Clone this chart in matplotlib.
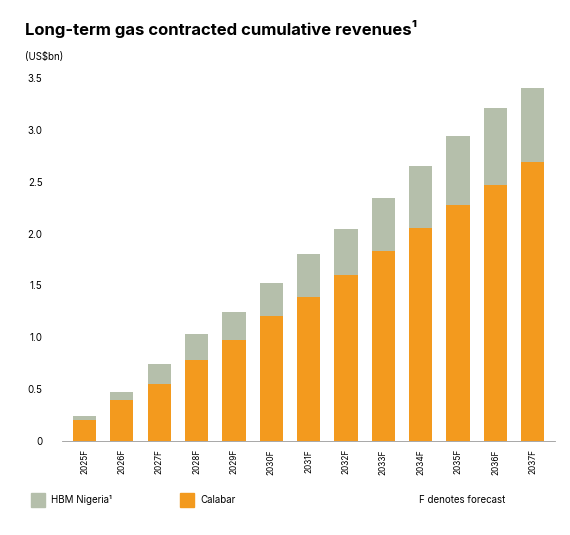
import matplotlib.pyplot as plt

years = ['2025F', '2026F', '2027F', '2028F', '2029F', '2030F', '2031F',
         '2032F', '2033F', '2034F', '2035F', '2036F', '2037F']
calabar = [0.20, 0.39, 0.55, 0.78, 0.97, 1.20, 1.39, 1.60, 1.83, 2.05, 2.28, 2.47, 2.69]
totals = [0.24, 0.47, 0.74, 1.03, 1.24, 1.52, 1.80, 2.04, 2.34, 2.65, 2.94, 3.21, 3.40]
hbm = [t - c for t, c in zip(totals, calabar)]

orange = '#F39A1E'
grey = '#B5BFAB'

plt.rcParams['font.family'] = ['Inter', 'DejaVu Sans']
fig = plt.figure(figsize=(5.7, 5.35), dpi=100)
ax = fig.add_axes([0.109, 0.176, 0.865, 0.678])

x = range(len(years))
ax.bar(x, calabar, width=0.62, color=orange)
ax.bar(x, hbm, bottom=calabar, width=0.62, color=grey)

ax.set_ylim(0, 3.5)
ax.set_xlim(-0.6, len(years) - 0.4)
ax.set_yticks([0, 0.5, 1.0, 1.5, 2.0, 2.5, 3.0, 3.5])
ax.set_yticklabels(['0', '0.5', '1.0', '1.5', '2.0', '2.5', '3.0', '3.5'], fontsize=7)
ax.set_xticks(list(x))
ax.set_xticklabels(years, rotation=90, fontsize=6)
ax.tick_params(axis='y', length=0, pad=14)
ax.tick_params(axis='x', length=0, pad=6)
for s in ['top', 'right', 'left']:
    ax.spines[s].set_visible(False)
ax.spines['bottom'].set_color('#999999')
ax.spines['bottom'].set_linewidth(0.6)

fig.text(0.044, 0.945, 'Long-term gas contracted cumulative revenues¹',
         fontsize=12, fontweight='bold', va='center')
fig.text(0.044, 0.893, '(US$bn)', fontsize=7, va='center')

leg_items = [(0.054, grey, 'HBM Nigeria¹'), (0.316, orange, 'Calabar')]
for lx, col, lab in leg_items:
    fig.patches.append(plt.Rectangle((lx, 0.052), 0.025, 0.027,
                                     transform=fig.transFigure, color=col))
    fig.text(lx + 0.035, 0.065, lab, fontsize=7, va='center')
fig.text(0.735, 0.065, 'F denotes forecast', fontsize=7, va='center')

fig.savefig('out.png', dpi=100)
